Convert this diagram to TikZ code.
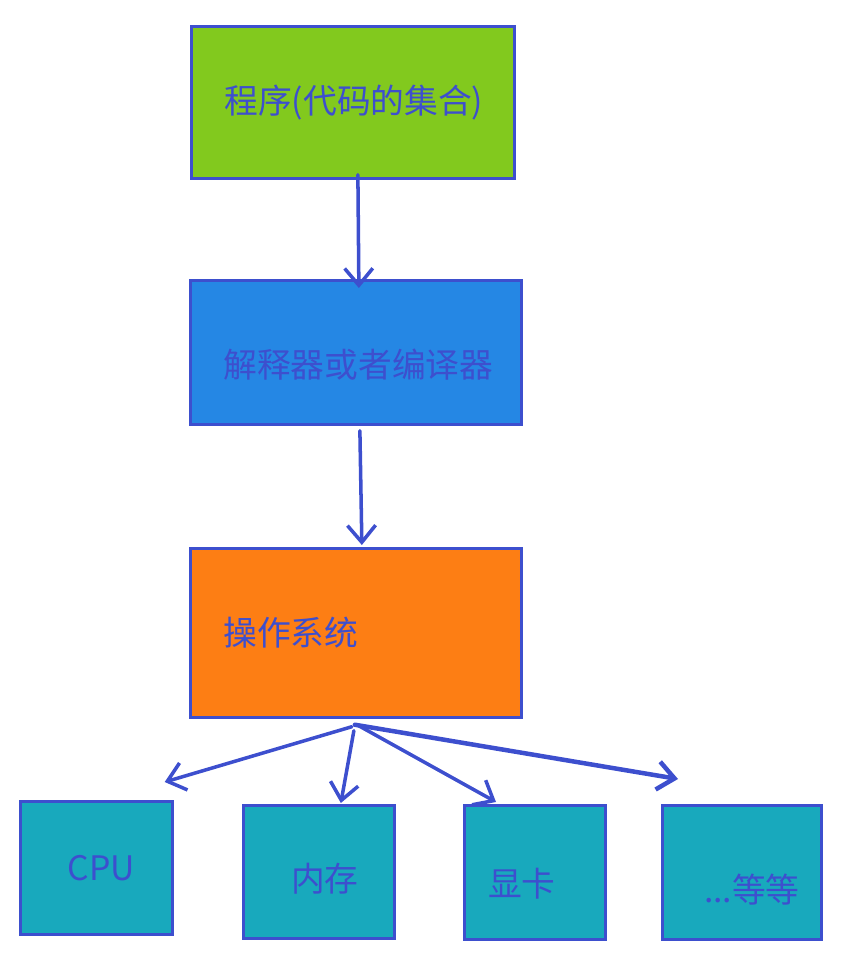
\documentclass[tikz,border=0pt]{standalone}
\usepackage{fontspec}
\newfontfamily\cjk{Noto Sans CJK SC}
\usetikzlibrary{calc,arrows.meta}
\definecolor{inkblue}{RGB}{61,79,206}
\definecolor{progfill}{RGB}{130,201,30}
\definecolor{interpfill}{RGB}{37,135,228}
\definecolor{osfill}{RGB}{253,126,20}
\definecolor{hwfill}{RGB}{24,169,189}
\tikzset{>={Straight Barb[length=12pt,width=20pt]}}
\tikzset{
  box/.style={draw=inkblue, line width=1.9pt, anchor=north west, text=inkblue,
    font=\cjk\fontsize{24}{28}\selectfont, inner sep=0pt},
  layer/.style={box, inner xsep=0.825cm, align=left},
  hw/.style={box, fill=hwfill, align=center},
  flow/.style={->, draw=inkblue, line width=2.5pt, line cap=round, line join=round},
}

\begin{document}
\begin{tikzpicture}[x=0.025cm, y=-0.025cm]
  \useasboundingbox (0,0) rectangle (844,970);
  % software layers
  \node (prog) at (190,25) [layer, fill=progfill, text width=6.425cm, minimum height=3.8cm] {程序(代码的集合)};
  \node (interp) at (189,279) [layer, fill=interpfill, text width=6.625cm, minimum height=3.6cm] {\raisebox{-0.3cm}[\height][\depth]{解释器或者编译器}};
  \node (os) at (189,547) [layer, fill=osfill, text width=6.625cm, minimum height=4.225cm] {操作系统};
  % hardware
  \node (cpu) at (19,800) [hw, minimum width=3.8cm, minimum height=3.325cm] {\hspace{0.25cm}CPU};
  \node (mem) at (242,804) [hw, minimum width=3.775cm, minimum height=3.325cm] {\hspace{0.3cm}\raisebox{-0.18cm}[\height][\depth]{内存}};
  \node (gpu) at (463,804) [hw, minimum width=3.525cm, minimum height=3.35cm] {\raisebox{-0.28cm}[\height][\depth]{显卡}\hspace{0.65cm}};
  \node (etc) at (661,804) [hw, minimum width=3.975cm, minimum height=3.35cm] {\hspace{0.5cm}\raisebox{-0.42cm}[\height][\depth]{...等等}};
  % arrows
  \draw[flow] ($(prog.south)+(5,-5)$) -- ($(interp.north)+(3,9)$);
  \draw[flow] ($(interp.south)+(4,5)$) -- ($(os.north)+(6,-2)$);
  \coordinate (fan) at ($(os.south)+(-4,8)$);
  \draw[flow] (fan) -- ($(cpu.north east)+(-9,-18)$);
  \draw[flow] ($(fan)+(2,4)$) -- ($(mem.north)+(22,-1)$);
  \draw[flow] ($(fan)+(5,-2)$) -- ($(gpu.north west)+(33,-2)$);
  \draw[flow, line width=3.2pt] ($(fan)+(3,-2)$) -- ($(etc.north west)+(17,-25)$);
\end{tikzpicture}
\end{document}
